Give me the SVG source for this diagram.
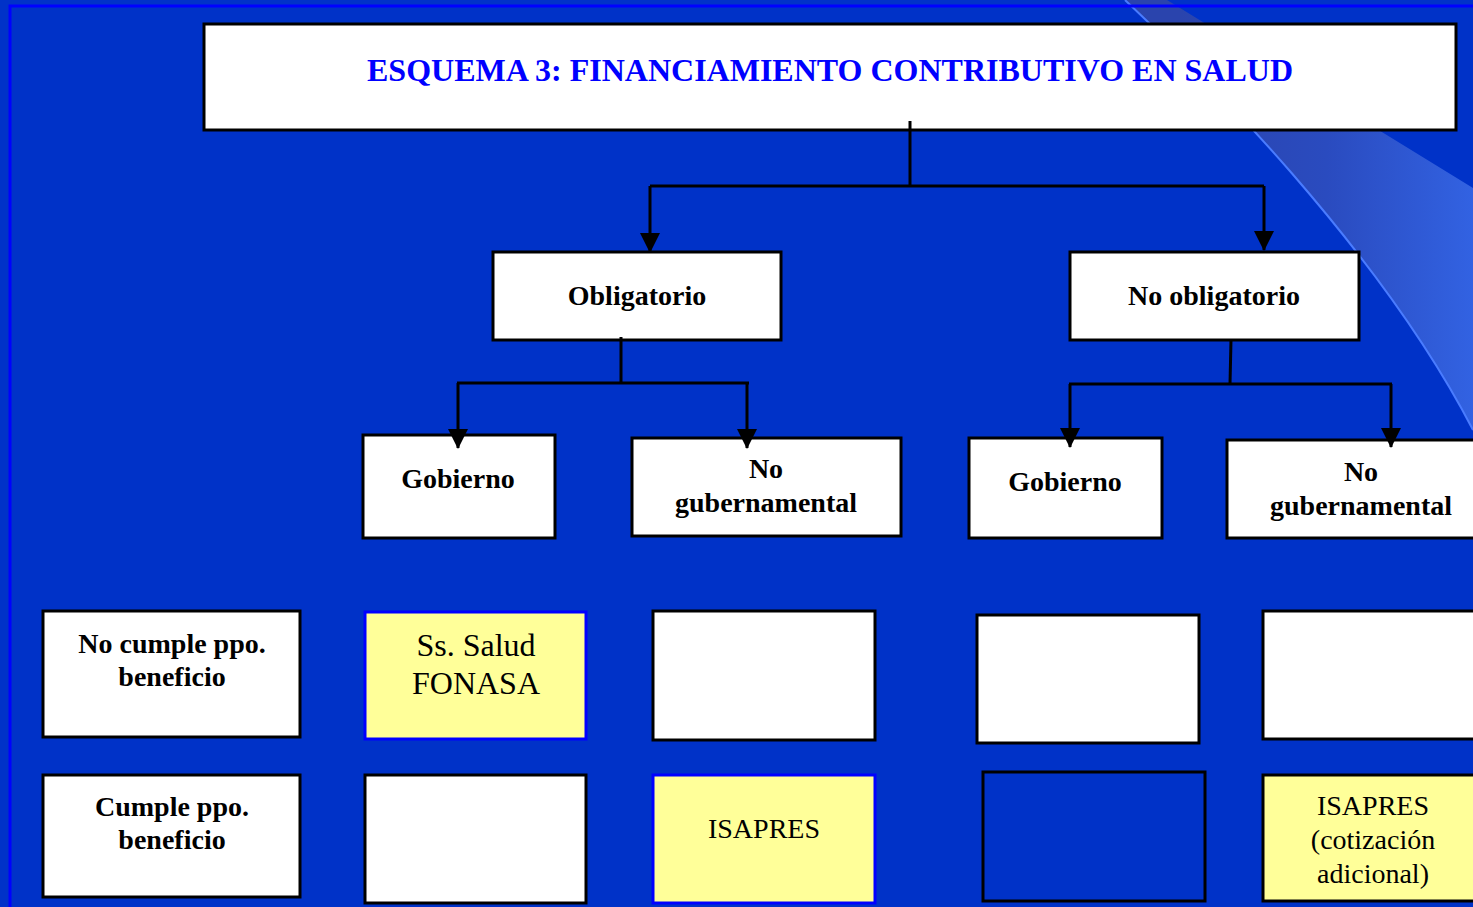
<svg xmlns="http://www.w3.org/2000/svg" width="1473" height="907" viewBox="0 0 1473 907">
<defs>
<linearGradient id="band" gradientUnits="userSpaceOnUse" x1="1180" y1="0" x2="1473" y2="0">
<stop offset="0" stop-color="#2a44ad"/>
<stop offset="0.5" stop-color="#2a4bbf"/>
<stop offset="1" stop-color="#3262e2"/>
</linearGradient>
<marker id="arr" viewBox="0 0 20 20" refX="19" refY="10" markerWidth="20" markerHeight="20" markerUnits="userSpaceOnUse" orient="auto">
<path d="M0,0 L20,10 L0,20 Z" fill="#000"/>
</marker>
<style>
.box{fill:#fff;stroke:#000;stroke-width:3}
.ybox{fill:#ffff99;stroke:#000;stroke-width:3}
.ybb{fill:#ffff99;stroke:#0000ff;stroke-width:3}
.ebox{fill:none;stroke:#000;stroke-width:3}
.b{font-family:"Liberation Serif","Times New Roman",serif;font-weight:bold;font-size:28px;fill:#000;text-anchor:middle}
.r{font-family:"Liberation Serif","Times New Roman",serif;font-size:28px;fill:#000;text-anchor:middle}
.r32{font-family:"Liberation Serif","Times New Roman",serif;font-size:32px;fill:#000;text-anchor:middle}
.ln{fill:none;stroke:#000;stroke-width:3}
</style>
</defs>
<rect x="0" y="0" width="1473" height="907" fill="#0032c8"/>
<path d="M1125,0 L1167,0 L1473,188 L1473,430 C1380,250 1200,70 1125,0 Z" fill="url(#band)"/>
<path d="M1125,0 C1200,70 1380,250 1473,430" fill="none" stroke="#4a7cff" stroke-width="2"/>
<rect x="10" y="6" width="1500" height="1000" fill="none" stroke="#0000ff" stroke-width="3"/>

<g id="title">
<rect class="box" x="204" y="24" width="1252" height="106"/>
<text x="830" y="81" font-family="Liberation Serif, Times New Roman, serif" font-weight="bold" font-size="32" fill="#0000ff" text-anchor="middle">ESQUEMA 3: FINANCIAMIENTO CONTRIBUTIVO EN SALUD</text>
</g>

<g id="obligatorio">
<rect class="box" x="493" y="252" width="288" height="88"/>
<text class="b" x="637" y="305">Obligatorio</text>
</g>
<g id="no-obligatorio">
<rect class="box" x="1070" y="252" width="289" height="88"/>
<text class="b" x="1214" y="305">No obligatorio</text>
</g>

<g id="gobierno-1">
<rect class="box" x="363" y="435" width="192" height="103"/>
<text class="b" x="458" y="488">Gobierno</text>
</g>
<g id="no-gub-1">
<rect class="box" x="632" y="438" width="269" height="98"/>
<text class="b" x="766" y="478">No</text>
<text class="b" x="766" y="512">gubernamental</text>
</g>
<g id="gobierno-2">
<rect class="box" x="969" y="438" width="193" height="100"/>
<text class="b" x="1065" y="491">Gobierno</text>
</g>
<g id="no-gub-2">
<rect class="box" x="1227" y="440" width="260" height="98"/>
<text class="b" x="1361" y="481">No</text>
<text class="b" x="1361" y="515">gubernamental</text>
</g>

<g id="no-cumple">
<rect class="box" x="43" y="611" width="257" height="126"/>
<text class="b" x="172" y="653">No cumple ppo.</text>
<text class="b" x="172" y="686">beneficio</text>
</g>
<g id="fonasa">
<rect class="ybb" x="365" y="612" width="221" height="127"/>
<text class="r32" x="476" y="656">Ss. Salud</text>
<text class="r32" x="476" y="694">FONASA</text>
</g>
<g id="empty-1">
<rect class="box" x="653" y="611" width="222" height="129"/>
</g>
<g id="empty-2">
<rect class="box" x="977" y="615" width="222" height="128"/>
</g>
<g id="empty-3">
<rect class="box" x="1263" y="611" width="230" height="128"/>
</g>

<g id="cumple">
<rect class="box" x="43" y="775" width="257" height="122"/>
<text class="b" x="172" y="816">Cumple ppo.</text>
<text class="b" x="172" y="849">beneficio</text>
</g>
<g id="empty-4">
<rect class="box" x="365" y="775" width="221" height="128"/>
</g>
<g id="isapres">
<rect class="ybb" x="653" y="775" width="222" height="128"/>
<text class="r" x="764" y="838">ISAPRES</text>
</g>
<g id="empty-5">
<rect class="ebox" x="983" y="772" width="222" height="129"/>
</g>
<g id="isapres-adicional">
<rect class="ybox" x="1263" y="775" width="230" height="126"/>
<text class="r" x="1373" y="815">ISAPRES</text>
<text class="r" x="1373" y="849">(cotización</text>
<text class="r" x="1373" y="883">adicional)</text>
</g>

<g id="connectors">
<path class="ln" d="M910,121 V186"/>
<path class="ln" d="M650,186 H1264"/>
<path class="ln" d="M650,186 V252" marker-end="url(#arr)"/>
<path class="ln" d="M1264,186 V250" marker-end="url(#arr)"/>
<path class="ln" d="M621,337 V383"/>
<path class="ln" d="M457,383 H749"/>
<path class="ln" d="M458,383 V448" marker-end="url(#arr)"/>
<path class="ln" d="M747,383 V448" marker-end="url(#arr)"/>
<path class="ln" d="M1231,340 L1230,384"/>
<path class="ln" d="M1069,384 H1392"/>
<path class="ln" d="M1070,384 V447" marker-end="url(#arr)"/>
<path class="ln" d="M1391,384 V447" marker-end="url(#arr)"/>
</g>
</svg>
